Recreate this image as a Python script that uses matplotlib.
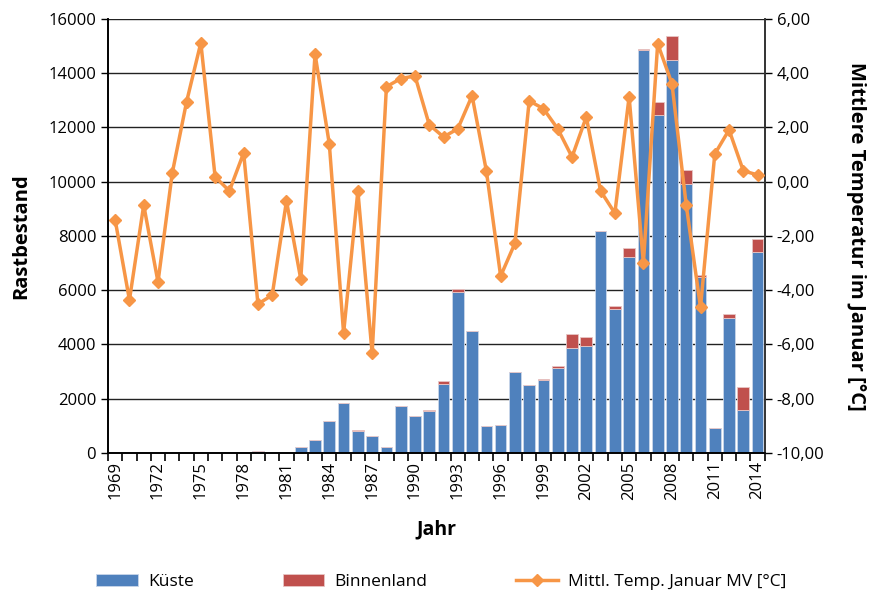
import matplotlib
matplotlib.use("Agg")
import matplotlib.pyplot as plt
import numpy as np
from matplotlib.ticker import FixedLocator, FuncFormatter

years = list(range(1969, 2015))
kueste = [0, 0, 0, 0, 0, 0, 0, 0, 0, 0, 90, 0, 0, 230, 480, 1190, 1830, 800, 640, 207,
          1750, 1350, 1560, 2550, 5950, 4480, 1010, 1045, 2980, 2490, 2700, 3140,
          3880, 3950, 8190, 5290, 7210, 14840, 12440, 14500, 9900, 6470, 910, 4970, 1590, 7410]
binnenland = [0, 0, 0, 0, 0, 0, 0, 0, 0, 0, 0, 0, 0, 0, 0, 0, 0, 30, 0, 0,
              0, 0, 30, 120, 100, 0, 0, 0, 0, 0, 30, 60,
              490, 320, 0, 120, 330, 60, 480, 860, 530, 85, 0, 165, 835, 470]
temp = [-1.41, -4.36, -0.86, -3.70, 0.32, 2.94, 5.12, 0.18, -0.34, 1.06, -4.51, -4.18, -0.71,
        -3.59, 4.71, 1.39, -5.58, -0.34, -6.33, 3.50, 3.80, 3.90, 2.10, 1.65, 1.95, 3.17,
        0.40, -3.48, -2.27, 2.98, 2.69, 1.95, 0.91, 2.39, -0.34, -1.16, 3.13, -3.00, 5.09,
        3.61, -0.86, -4.63, 1.02, 1.91, 0.40, 0.25]

plt.rcParams['font.family'] = ['Open Sans', 'DejaVu Sans']

fig = plt.figure(figsize=(8.74, 5.91), dpi=100)
ax = fig.add_axes([0.1236, 0.2335, 0.7514, 0.7345])
ax2 = ax.twinx()

x = np.arange(len(years))
blue = '#4F81BD'
red = '#C0504D'
orange = '#F79646'

ax.set_axisbelow(True)
ax.yaxis.grid(True, color='#222222', linewidth=1.0)
b1 = ax.bar(x, kueste, width=0.82, color=blue, edgecolor='#c9d6ea', linewidth=0.6, label='Küste', zorder=2)
b2 = ax.bar(x, binnenland, width=0.82, bottom=kueste, color=red, edgecolor='#e8c6c5', linewidth=0.6, label='Binnenland', zorder=2)
ln, = ax2.plot(x, temp, color=orange, linewidth=2.5, marker='D', markersize=6.5,
               label='Mittl. Temp. Januar MV [°C]', zorder=3)

ax.set_xlim(-0.5, len(years) - 0.5)
ax.set_ylim(0, 16000)
ax.set_yticks(np.arange(0, 16001, 2000))
ax2.set_ylim(-10, 6)
ax2.set_yticks(np.arange(-10, 6.01, 2))
ax2.yaxis.set_major_formatter(FuncFormatter(lambda v, p: f"{v:.2f}".replace('.', ',')))

lab_idx = [i for i, y in enumerate(years) if (y - 1969) % 3 == 0]
ax.set_xticks(lab_idx)
ax.set_xticklabels([str(years[i]) for i in lab_idx], rotation=90, fontsize=12)
ax.tick_params(axis='x', which='major', length=0, pad=6)
ax.xaxis.set_minor_locator(FixedLocator(np.arange(-0.5, len(years), 1.0)))
ax.tick_params(axis='x', which='minor', length=6, width=1.2, color='black')
ax.tick_params(axis='y', labelsize=12, length=5, width=1.0)
ax2.tick_params(axis='y', labelsize=12, length=5, width=1.0)

for a in (ax, ax2):
    a.spines['top'].set_visible(False)
    a.spines['left'].set_color('black')
    a.spines['right'].set_color('#333333')
    a.spines['bottom'].set_color('black')
    a.spines['left'].set_linewidth(1.2)
    a.spines['bottom'].set_linewidth(1.2)
    a.spines['right'].set_linewidth(1.2)

ax.set_xlabel('Jahr', fontsize=14, fontweight='bold', labelpad=14)
ax.set_ylabel('Rastbestand', fontsize=14.5, fontweight='bold', labelpad=12)
ax2.set_ylabel('Mittlere Temperatur im Januar [°C]', fontsize=14.5, fontweight='bold',
               rotation=270, labelpad=30)

fig.legend([b1, b2, ln], ['Küste', 'Binnenland', 'Mittl. Temp. Januar MV [°C]'],
           loc='lower center', bbox_to_anchor=(0.505, -0.025), ncol=3, frameon=False,
           fontsize=12.5, columnspacing=5.1, handlelength=2.4, handletextpad=0.6)

fig.savefig('out.png', dpi=100)
